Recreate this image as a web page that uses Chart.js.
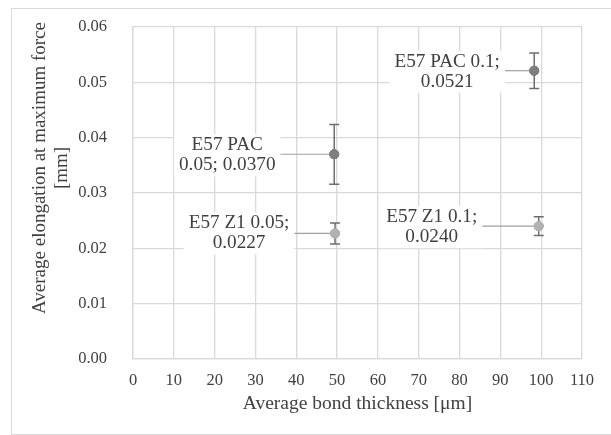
<!DOCTYPE html>
<html>
<head>
<meta charset="utf-8">
<script src="https://cdn.jsdelivr.net/npm/chart.js@4"></script>
<style>
  body { margin: 0; background: #fff; overflow: hidden; }
  #wrap { position: relative; width: 611px; height: 435px; overflow: hidden; }
  #frame { position: absolute; left: 11px; top: 8px; width: 800px; height: 425px; border: 1px solid #d9d9d9; }
  canvas { position: absolute; left: 0; top: 0; }
</style>
</head>
<body>
<div id="wrap">
  <div id="frame"></div>
  <canvas id="chart" width="611" height="435"></canvas>
</div>
<script>
// Series data
const pacX = [49.3, 98.3];
const pacY = [0.0370, 0.0521];
const pacErr = [0.0054, 0.0032];
const pacLabels = [['E57 PAC', '0.05; 0.0370'], ['E57 PAC 0.1;', '0.0521']];

const z1X = [49.5, 99.4];
const z1Y = [0.0227, 0.0240];
const z1Err = [0.0019, 0.0017];
const z1Labels = [['E57 Z1 0.05;', '0.0227'], ['E57 Z1 0.1;', '0.0240']];

const xTicks = [0, 10, 20, 30, 40, 50, 60, 70, 80, 90, 100, 110];
const yTicks = [0, 0.01, 0.02, 0.03, 0.04, 0.05, 0.06];

// label box offsets from the point (pixels) - layout only
const pacLabelPos = [{ dx: -107, dy: 1 }, { dx: -87, dy: 1 }];
const z1LabelPos = [{ dx: -96, dy: 0 }, { dx: -107, dy: 1 }];

const SERIF = '"Liberation Serif", "Times New Roman", Times, serif';
const TEXT = '#404040';
const GRID = '#d9d9d9';

function toPoints(xs, ys) {
  return xs.map((x, i) => ({ x: x, y: ys[i] }));
}

const errorBars = {
  id: 'errorBars',
  afterDatasetsDraw(chart) {
    const ctx = chart.ctx;
    const xs = chart.scales.x, ys = chart.scales.y;
    ctx.save();
    chart.data.datasets.forEach((ds, di) => {
      const meta = chart.getDatasetMeta(di);
      ds.data.forEach((p, i) => {
        const e = ds.errors[i];
        const px = xs.getPixelForValue(p.x);
        const top = ys.getPixelForValue(p.y + e);
        const bot = ys.getPixelForValue(p.y - e);
        ctx.strokeStyle = '#6e6e6e';
        ctx.lineWidth = 1.5;
        ctx.beginPath();
        ctx.moveTo(px, top); ctx.lineTo(px, bot);
        ctx.moveTo(px - 5, top); ctx.lineTo(px + 5, top);
        ctx.moveTo(px - 5, bot); ctx.lineTo(px + 5, bot);
        ctx.stroke();
      });
      meta.data.forEach(el => el.draw(ctx, chart.chartArea));
    });
    ctx.restore();
  }
};

const dataLabels = {
  id: 'dataLabels',
  afterDatasetsDraw(chart) {
    const ctx = chart.ctx;
    ctx.save();
    ctx.font = '19.2px ' + SERIF;
    ctx.textAlign = 'center';
    ctx.textBaseline = 'middle';
    chart.data.datasets.forEach((ds, di) => {
      const meta = chart.getDatasetMeta(di);
      meta.data.forEach((el, i) => {
        const lines = ds.pointLabels[i];
        const pos = ds.labelPos[i];
        const cx = el.x + pos.dx, cy = el.y + pos.dy;
        const w = Math.max(...lines.map(l => ctx.measureText(l).width)) + 10;
        const h = 42;
        ctx.fillStyle = '#fff';
        ctx.fillRect(cx - w / 2, cy - h / 2, w, h);
        ctx.strokeStyle = '#a0a0a0';
        ctx.lineWidth = 1.2;
        ctx.beginPath();
        ctx.moveTo(cx + w / 2, el.y);
        ctx.lineTo(el.x, el.y);
        ctx.stroke();
        ctx.fillStyle = TEXT;
        lines.forEach((l, k) => {
          ctx.fillText(l, cx, cy - 10 + k * 20);
        });
      });
      meta.data.forEach(el => el.draw(ctx, chart.chartArea));
    });
    ctx.restore();
  }
};

const yTitle = {
  id: 'yTitle',
  afterDraw(chart) {
    const ctx = chart.ctx;
    ctx.save();
    ctx.translate(40, 168);
    ctx.rotate(-Math.PI / 2);
    ctx.font = '19px ' + SERIF;
    ctx.fillStyle = TEXT;
    ctx.textAlign = 'center';
    ctx.textBaseline = 'middle';
    ctx.fillText('Average elongation at maximum force', 0, 0);
    ctx.fillText('[mm]', 0, 22);
    ctx.restore();
  }
};

function build() {
  new Chart(document.getElementById('chart').getContext('2d'), {
    type: 'scatter',
    data: {
      datasets: [
        {
          label: 'E57 PAC',
          data: toPoints(pacX, pacY),
          errors: pacErr,
          pointLabels: pacLabels,
          labelPos: pacLabelPos,
          backgroundColor: '#7f7f7f',
          borderColor: '#7f7f7f',
          pointRadius: 4.5
        },
        {
          label: 'E57 Z1',
          data: toPoints(z1X, z1Y),
          errors: z1Err,
          pointLabels: z1Labels,
          labelPos: z1LabelPos,
          backgroundColor: '#b2b2b2',
          borderColor: '#b2b2b2',
          pointRadius: 4.5
        }
      ]
    },
    options: {
      responsive: false,
      animation: false,
      devicePixelRatio: 1,
      layout: { padding: { top: 27, right: 29, left: 0, bottom: 0 } },
      plugins: { legend: { display: false }, tooltip: { enabled: false } },
      scales: {
        x: {
          type: 'linear',
          min: xTicks[0],
          max: xTicks[xTicks.length - 1],
          afterBuildTicks: s => { s.ticks = xTicks.map(v => ({ value: v })); },
          afterFit: s => { s.height = 76; s.paddingLeft = 0; s.paddingRight = 0; },
          ticks: { font: { family: SERIF, size: 16.5 }, color: TEXT, padding: 12, maxRotation: 0 },
          grid: { color: GRID, lineWidth: 1.3, drawTicks: false },
          border: { color: GRID, width: 1.3 },
          title: {
            display: true,
            text: 'Average bond thickness [μm]',
            font: { family: SERIF, size: 19.5 },
            color: TEXT,
            padding: { top: 0, bottom: 19 }
          }
        },
        y: {
          type: 'linear',
          min: yTicks[0],
          max: yTicks[yTicks.length - 1],
          afterBuildTicks: s => { s.ticks = yTicks.map(v => ({ value: v })); },
          afterFit: s => { s.width = 133; s.paddingTop = 0; s.paddingBottom = 0; },
          ticks: {
            font: { family: SERIF, size: 16.5 },
            color: TEXT,
            padding: 26,
            callback: v => v.toFixed(2)
          },
          grid: { color: GRID, lineWidth: 1.3, drawTicks: false },
          border: { color: GRID, width: 1.3 }
        }
      }
    },
    plugins: [errorBars, dataLabels, yTitle]
  });
}

Promise.all([
  document.fonts.load('18px "Liberation Serif"'),
  document.fonts.load('16px "Liberation Serif"')
]).catch(() => {}).then(build);
</script>
</body>
</html>
